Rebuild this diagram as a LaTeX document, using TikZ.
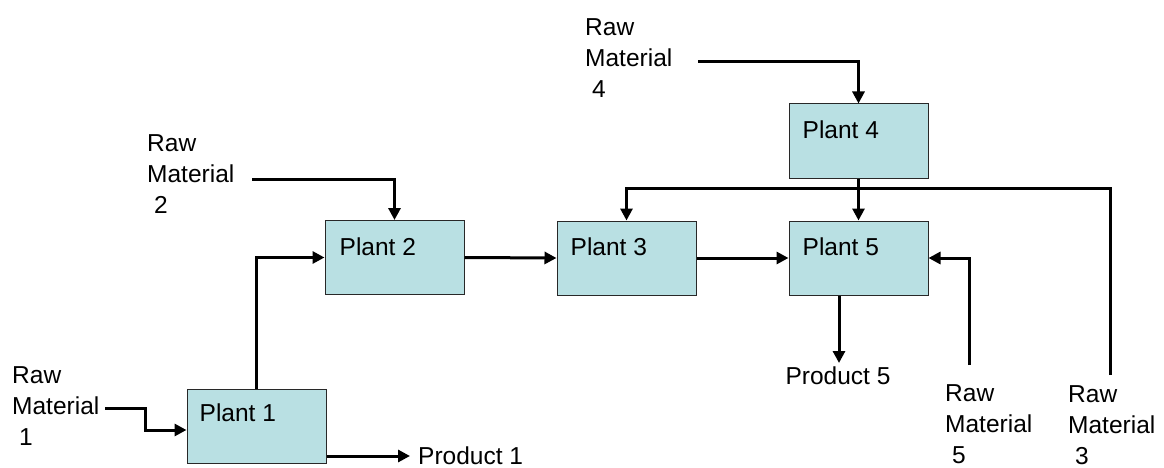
\documentclass[tikz,border=0pt]{standalone}
\usepackage{fontspec}
\setmainfont{Liberation Sans}
\usetikzlibrary{arrows.meta}
\definecolor{plantfill}{RGB}{185,224,227}
\definecolor{plantedge}{RGB}{40,40,40}
\tikzset{
  plantbox/.style={draw=plantedge, line width=1pt, fill=plantfill,
    minimum width=139pt, minimum height=74pt, inner sep=0pt},
  plabel/.style={anchor=west, inner sep=0pt, font=\fontsize{24.5}{31}\selectfont},
  rawtext/.style={anchor=north west, inner sep=0pt, align=left,
    font=\fontsize{24.5}{31}\selectfont},
  prodtext/.style={inner sep=0pt, font=\fontsize{24.5}{31}\selectfont},
  flow/.style={line width=3pt, -{Triangle[length=12pt,width=12pt]}},
}
\begin{document}
\begin{tikzpicture}[x=1pt,y=-1pt]
\useasboundingbox (0,0) rectangle (1164,468);

% plants
\node[plantbox] (p1) at (256.5,426) {};
\node[plantbox] (p2) at (394.5,257.5) {};
\node[plantbox] (p3) at (626.5,258) {};
\node[plantbox] (p5) at (858.5,258) {};
\node[plantbox] (p4) at (858.5,141) {};

\node[plabel] (t1) at ([shift={(13,24)}]p1.north west) {Plant 1};
\node[plabel] (t2) at ([shift={(15,27)}]p2.north west) {Plant 2};
\node[plabel] (t3) at ([shift={(14,26)}]p3.north west) {Plant 3};
\node[plabel] (t5) at ([shift={(14,26)}]p5.north west) {Plant 5};
\node[plabel] (t4) at ([shift={(14,26)}]p4.north west) {Plant 4};

% raw material labels
\node[rawtext] (rm1) at (12,366) {Raw\\Material\\\hspace*{7pt}1};
\node[rawtext] (rm2) at (147,134) {Raw\\Material\\\hspace*{7pt}2};
\node[rawtext] (rm4) at (585,18) {Raw\\Material\\\hspace*{7pt}4};
\node[rawtext] (rm5) at (945,384) {Raw\\Material\\\hspace*{7pt}5};
\node[rawtext] (rm3) at (1068,385) {Raw\\Material\\\hspace*{7pt}3};

% products
\node[prodtext, anchor=west] (pr1) at (418,456) {Product 1};
\node[prodtext, anchor=north] (pr5) at (838,367) {Product 5};

% feed line ends
\coordinate (rm1o) at (105,408);
\coordinate (rm2o) at (252,179);
\coordinate (rm4o) at (698,62);
\coordinate (rm5o) at (969,365);
\coordinate (rm3o) at (1110,375);
\coordinate (br) at (858,188);

% connectors
\draw[flow] (rm1o) -- (145,408) |- (p1.west |- 0,430);
\draw[flow] (p1.north) |- (p2.west);
\draw[flow] (p1.east |- pr1) -- ([xshift=-8pt]pr1.west);
\draw[flow] (rm2o) -| (p2.north);
\draw[flow] (p2.east) -- (p3.west);
\draw[flow] (p3.east) -- (p5.west);
\draw[flow] (rm4o) -| (p4.north);
\draw[flow] (p4.south) -- (p5.north);
\draw[flow] (rm3o) |- (p3.north |- br) -- (p3.north);
\draw[flow] (rm5o) |- (p5.east);
\draw[flow] (p5.south -| 839,0) -- ([yshift=4pt]pr5.north -| 839,0);
\end{tikzpicture}
\end{document}
